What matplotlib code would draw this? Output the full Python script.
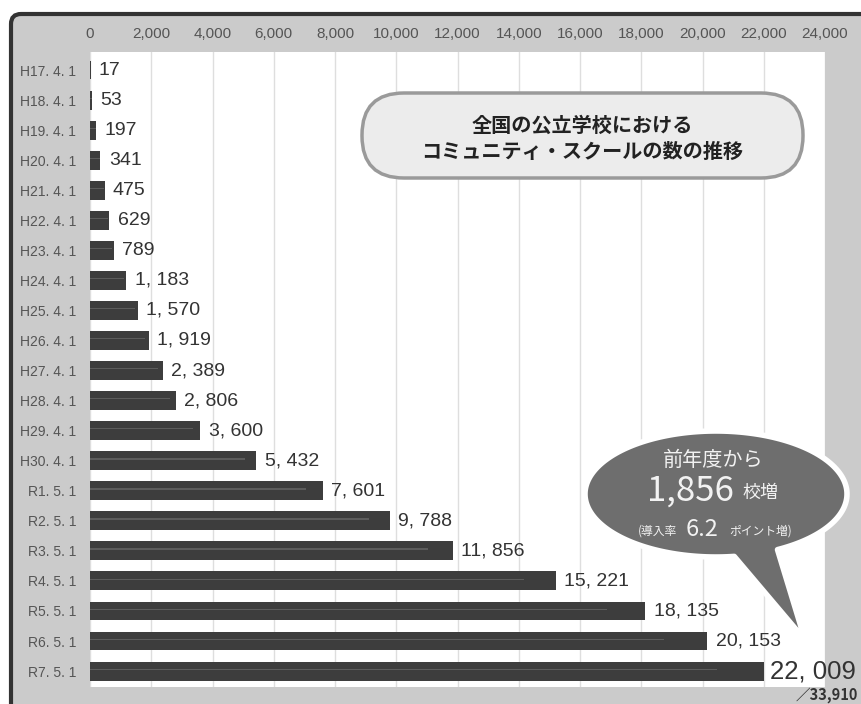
import numpy as np
import matplotlib.pyplot as plt
from matplotlib.patches import FancyBboxPatch, Polygon

# データ
labels = ['H17. 4. 1', 'H18. 4. 1', 'H19. 4. 1', 'H20. 4. 1', 'H21. 4. 1',
          'H22. 4. 1', 'H23. 4. 1', 'H24. 4. 1', 'H25. 4. 1', 'H26. 4. 1',
          'H27. 4. 1', 'H28. 4. 1', 'H29. 4. 1', 'H30. 4. 1', 'R1. 5. 1',
          'R2. 5. 1', 'R3. 5. 1', 'R4. 5. 1', 'R5. 5. 1', 'R6. 5. 1', 'R7. 5. 1']
counts = [17, 53, 197, 341, 475, 629, 789, 1183, 1570, 1919, 2389, 2806,
          3600, 5432, 7601, 9788, 11856, 15221, 18135, 20153, 22009]
xticks = [0, 2000, 4000, 6000, 8000, 10000, 12000, 14000, 16000, 18000,
          20000, 22000, 24000]
total = 33910

narrow = ['Liberation Sans', 'DejaVu Sans']
jp = ['Noto Sans CJK JP', 'DejaVu Sans']

W, H = 861, 704
fig = plt.figure(figsize=(W / 100, H / 100), dpi=100)
fig.patch.set_facecolor('white')

# 背景 (ピクセル座標)
bg = fig.add_axes([0, 0, 1, 1], zorder=0)
bg.set_xlim(0, W)
bg.set_ylim(H, 0)
bg.axis('off')
bg.add_patch(FancyBboxPatch((11, 14), 950, 800,
                            boxstyle='round,pad=0,rounding_size=10',
                            fc='#cbcbcb', ec='#333333', lw=3))

# グラフ本体
ax = fig.add_axes([90 / W, 1 - 687 / H, 735 / W, 635 / H], zorder=1)
ax.set_facecolor('white')
y = np.arange(len(counts))
ax.barh(y, counts, height=0.63, color='#3d3d3d', zorder=2)
ax.barh(y - 0.06, np.array(counts) * 0.93, height=0.04, color='#5c5c5c', zorder=3)

ax.set_xlim(0, 24000)
ax.set_ylim(len(counts) - 0.47, -0.6)
ax.xaxis.tick_top()
ax.set_xticks(xticks)
ax.set_xticklabels([f'{t:,}' for t in xticks], family=narrow, fontsize=11,
                   color='#555555')
ax.set_yticks(y)
ax.set_yticklabels(labels, family=narrow, fontsize=10, color='#555555')
ax.tick_params(axis='x', length=0, pad=8)
ax.tick_params(axis='y', length=0, pad=10)
ax.grid(axis='x', color='#dedede', lw=1, zorder=1)
ax.set_axisbelow(True)
for s in ax.spines.values():
    s.set_visible(False)

for i, v in enumerate(counts):
    txt = f'{v:,}'.replace(',', ', ')
    last = i == len(counts) - 1
    ax.annotate(txt, (v, i), xytext=(4 if last else 6, 0),
                textcoords='offset points', va='center', ha='left',
                family=narrow, fontsize=18.5 if last else 14,
                color='#333333', zorder=4, annotation_clip=False)

# 前景 (吹き出し・タイトル)
fg = fig.add_axes([0, 0, 1, 1], zorder=2)
fg.set_xlim(0, W)
fg.set_ylim(H, 0)
fg.axis('off')
fg.patch.set_alpha(0)

fg.text(858, 695, f'／{total:,}', ha='right', va='center', family=jp,
        fontsize=10.5, fontweight='bold', color='#333333')

fg.add_patch(FancyBboxPatch((362, 93), 441, 85,
                            boxstyle='round,pad=0,rounding_size=42',
                            fc='#ececec', ec='#9a9a9a', lw=2.5))
fg.text(582, 125, '全国の公立学校における', ha='center', va='center',
        family=jp, fontsize=14.5, fontweight='bold', color='#222222')
fg.text(582, 151, 'コミュニティ・スクールの数の推移', ha='center', va='center',
        family=jp, fontsize=14.5, fontweight='bold', color='#222222')

# 吹き出し
cx, cy, a, b = 716, 494, 131, 63
th = np.radians(np.linspace(82, 422, 200))
pts = np.column_stack([cx + a * np.cos(th), cy + b * np.sin(th)])
pts = np.vstack([pts, [805, 640]])
fg.add_patch(Polygon(pts, closed=True, fc='#6e6e6e', ec='white', lw=4,
                     joinstyle='round'))
fg.text(713, 460, '前年度から', ha='center', va='center', family=jp,
        fontsize=14.5, color='#f2f2f2')
fg.text(734, 491, '1,856', ha='right', va='center', family=jp,
        fontsize=25, color='#f2f2f2')
fg.text(742, 493, '校増', ha='left', va='center', family=jp,
        fontsize=13, color='#f2f2f2')
fg.text(677, 531, '(導入率', ha='right', va='center', family=jp,
        fontsize=8.5, color='#f2f2f2')
fg.text(702, 529, '6.2', ha='center', va='center', family=jp,
        fontsize=17, color='#f2f2f2')
fg.text(729, 531, 'ポイント増)', ha='left', va='center', family=jp,
        fontsize=8.5, color='#f2f2f2')

fig.savefig('out.png', dpi=100)
